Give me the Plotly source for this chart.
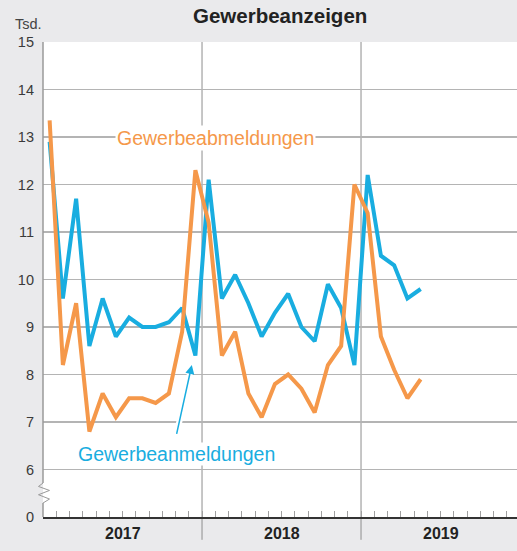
import plotly.graph_objects as go

# ---- data (thousands), monthly Jan 2017 - May 2019 ----
months = ["2017-01","2017-02","2017-03","2017-04","2017-05","2017-06","2017-07","2017-08",
          "2017-09","2017-10","2017-11","2017-12",
          "2018-01","2018-02","2018-03","2018-04","2018-05","2018-06","2018-07","2018-08",
          "2018-09","2018-10","2018-11","2018-12",
          "2019-01","2019-02","2019-03","2019-04","2019-05"]
anmeldungen = [12.9, 9.6, 11.7, 8.6, 9.6, 8.8, 9.2, 9.0, 9.0, 9.1, 9.4, 8.4,
               12.1, 9.6, 10.1, 9.5, 8.8, 9.3, 9.7, 9.0, 8.7, 9.9, 9.4, 8.2,
               12.2, 10.5, 10.3, 9.6, 9.8]
abmeldungen = [13.35, 8.2, 9.5, 6.8, 7.6, 7.1, 7.5, 7.5, 7.4, 7.6, 8.9, 12.3,
               11.2, 8.4, 8.9, 7.6, 7.1, 7.8, 8.0, 7.7, 7.2, 8.2, 8.6, 12.0,
               11.4, 8.8, 8.1, 7.5, 7.9]
years = ["2017", "2018", "2019"]
y_tickvals = [5, 6, 7, 8, 9, 10, 11, 12, 13, 14, 15]
y_ticktext = ["0", "6", "7", "8", "9", "10", "11", "12", "13", "14", "15"]

BLUE = "#19ade0"
ORANGE = "#f5984a"
BG = "#eaeaec"
FONT = "Liberation Sans"

# month index -> centre of month on a continuous month axis
xpos = [(int(m[:4]) - 2017) * 12 + int(m[5:]) - 1 + 0.5 for m in months]

fig = go.Figure()
fig.add_trace(go.Scatter(x=xpos, y=anmeldungen, mode="lines",
                         line=dict(color=BLUE, width=4), name="Gewerbeanmeldungen",
                         hoverinfo="skip"))
fig.add_trace(go.Scatter(x=xpos, y=abmeldungen, mode="lines",
                         line=dict(color=ORANGE, width=4), name="Gewerbeabmeldungen",
                         hoverinfo="skip"))

shapes = []
# year dividers
for k in (12, 24):
    shapes.append(dict(type="line", xref="x", yref="paper", x0=k, x1=k, y0=1, y1=-0.048,
                       line=dict(color="#8e8e8e", width=1), layer="between"))
# left axis with break (zigzag)
shapes.append(dict(type="line", xref="paper", yref="y", x0=0, x1=0, y0=5, y1=5.295,
                   line=dict(color="#9a9a9a", width=1.5), layer="above"))
shapes.append(dict(type="line", xref="paper", yref="y", x0=0, x1=0, y0=5.715, y1=15,
                   line=dict(color="#9a9a9a", width=1.5), layer="above"))
zl, zr = -4.5 / 474, 6.5 / 474
shapes.append(dict(type="path", xref="paper", yref="y",
                   path=("M 0,5.715 L %.4f,5.643 L %.4f,5.559 L %.4f,5.469 L %.4f,5.378 L 0,5.294"
                         % (zl, zr, zl, zr)),
                   line=dict(color="#9a9a9a", width=1), layer="above"))
# white halo under the arrow
ax_tail, ay_tail = 10.06, 6.72
ax_head, ay_head = 11.23, 8.2
shapes.append(dict(type="line", xref="x", yref="y", x0=ax_tail, y0=ay_tail, x1=ax_head, y1=ay_head,
                   line=dict(color="white", width=6), layer="between"))

annotations = [
    dict(text="<b>Gewerbeanzeigen</b>", xref="paper", yref="paper", x=0.5, y=1 + 27 / 475,
         showarrow=False, xanchor="center", yanchor="middle",
         font=dict(family=FONT, size=20.5, color="#222")),
    dict(text="Tsd.", xref="paper", yref="paper", x=-0.03, y=1 + 18 / 475, showarrow=False,
         font=dict(family=FONT, size=14.5, color="#444"), xanchor="center", yanchor="middle"),
    dict(text="Gewerbeabmeldungen", xref="x", yref="y", x=13.05, y=12.97, showarrow=False,
         font=dict(family=FONT, size=19.5, color=ORANGE), bgcolor="white", borderpad=1,
         xanchor="center", yanchor="middle"),
    dict(text="Gewerbeanmeldungen", xref="x", yref="y", x=10.1, y=6.33, showarrow=False,
         font=dict(family=FONT, size=19.5, color=BLUE), bgcolor="white", borderpad=0,
         xanchor="center", yanchor="middle"),
    dict(text="", xref="x", yref="y", x=ax_head, y=ay_head, axref="x", ayref="y",
         ax=ax_tail, ay=ay_tail, showarrow=True, arrowhead=2, arrowsize=1.2,
         arrowwidth=1.5, arrowcolor=BLUE),
]
for i, yr in enumerate(years):
    annotations.append(dict(text="<b>%s</b>" % yr, xref="x", yref="paper", x=6 + 12 * i,
                            y=-16.5 / 475, showarrow=False, xanchor="center", yanchor="middle",
                            font=dict(family=FONT, size=16, color="#222")))

fig.update_layout(
    width=517, height=551,
    margin=dict(l=43, r=0, t=42, b=34, autoexpand=False),
    paper_bgcolor=BG, plot_bgcolor="white",
    showlegend=False,
    shapes=shapes, annotations=annotations,
    xaxis=dict(range=[0, 35.77], showgrid=False, zeroline=False, showticklabels=False,
               ticks="inside", tickvals=list(range(1, 36)), ticklen=6, tickwidth=1,
               tickcolor="#a0a0a0", showline=True, linecolor="#333", linewidth=2,
               automargin=False),
    yaxis=dict(range=[5, 15], tickvals=y_tickvals, ticktext=y_ticktext, showgrid=True,
               gridcolor="#b4b4b4", gridwidth=1.5, zeroline=False, showline=False,
               ticks="", ticklabelstandoff=8, automargin=False,
               tickfont=dict(family=FONT, size=14.5, color="#3a3a3a")),
)

fig.write_html("out.html",
               config={"displayModeBar": False, "staticPlot": True},
               post_script="document.body.style.margin='0';"
                           "document.body.style.overflow='hidden';"
                           "document.documentElement.style.overflow='hidden';")
